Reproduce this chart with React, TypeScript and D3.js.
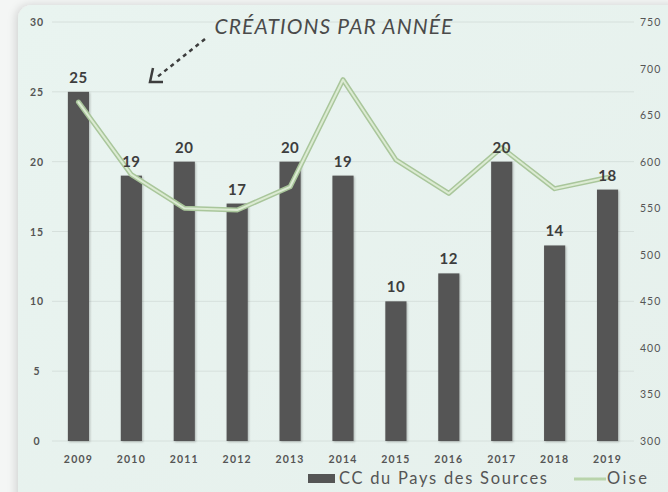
import { useRef, useEffect } from "react";
import * as d3 from "d3";

const years = ["2009", "2010", "2011", "2012", "2013", "2014", "2015", "2016", "2017", "2018", "2019"];
const ccValues = [25, 19, 20, 17, 20, 19, 10, 12, 20, 14, 18];
const oiseValues = [664, 586, 550, 548, 573, 688, 602, 566, 615, 571, 583];
const leftTicks = [0, 5, 10, 15, 20, 25, 30];
const rightTicks = [300, 350, 400, 450, 500, 550, 600, 650, 700, 750];

const FONT = "Lato, 'Open Sans', sans-serif";

export default function App() {
  const ref = useRef<SVGSVGElement>(null);

  useEffect(() => {
    if (!ref.current) return;
    const svg = d3.select(ref.current); svg.selectAll("*").remove();
    const W = 668, H = 492;
    const plot = { left: 52, right: 634, top: 22, bottom: 441 };

    const defs = svg.append("defs");
    const grad = defs.append("linearGradient").attr("id", "bg").attr("x1", 0).attr("x2", 1).attr("y1", 0).attr("y2", 1);
    grad.append("stop").attr("offset", "0%").attr("stop-color", "#e9f4f0");
    grad.append("stop").attr("offset", "100%").attr("stop-color", "#e6f0ec");
    const sh = defs.append("filter").attr("id", "sh").attr("x", "-10%").attr("y", "-10%").attr("width", "130%").attr("height", "130%");
    sh.append("feDropShadow").attr("dx", 1).attr("dy", 1).attr("stdDeviation", 1.2).attr("flood-color", "#000").attr("flood-opacity", 0.25);
    const cardSh = defs.append("filter").attr("id", "cardsh").attr("x", "-5%").attr("y", "-5%").attr("width", "110%").attr("height", "110%");
    cardSh.append("feDropShadow").attr("dx", -2).attr("dy", 0).attr("stdDeviation", 4).attr("flood-color", "#000").attr("flood-opacity", 0.15);

    svg.append("rect").attr("width", W).attr("height", H).attr("fill", "#f4f6f5");
    svg.append("rect").attr("x", 18).attr("y", 5).attr("width", W).attr("height", H + 20).attr("rx", 14)
      .attr("fill", "url(#bg)").attr("filter", "url(#cardsh)");

    const x = d3.scaleBand().domain(years).range([plot.left, plot.right]).paddingInner(0.6).paddingOuter(0.3);
    const yL = d3.scaleLinear().domain([0, 30]).range([plot.bottom, plot.top]);
    const yR = d3.scaleLinear().domain([300, 750]).range([plot.bottom, plot.top]);

    // gridlines
    svg.append("g").selectAll("line").data(leftTicks).join("line")
      .attr("x1", plot.left).attr("x2", plot.right).attr("y1", d => yL(d)).attr("y2", d => yL(d))
      .attr("stroke", "#d6e0dc").attr("stroke-width", 1);

    // left axis labels
    svg.append("g").selectAll("text").data(leftTicks).join("text")
      .attr("x", 37).attr("y", d => yL(d) + 4).attr("text-anchor", "middle")
      .attr("fill", "#555").attr("font-size", "10.5px").attr("font-weight", 700).attr("font-family", FONT)
      .attr("letter-spacing", "1px").text(d => String(d));

    // right axis labels
    svg.append("g").selectAll("text").data(rightTicks).join("text")
      .attr("x", 640).attr("y", d => yR(d) + 4).attr("text-anchor", "start")
      .attr("fill", "#555").attr("font-size", "10.5px").attr("font-family", FONT)
      .attr("letter-spacing", "1px").text(d => String(d));

    // bars
    svg.append("g").selectAll("rect").data(ccValues).join("rect")
      .attr("x", (_d, i) => x(years[i])!).attr("width", x.bandwidth())
      .attr("y", d => yL(d)).attr("height", d => plot.bottom - yL(d))
      .attr("fill", "#555555").attr("filter", "url(#sh)");

    // x labels
    svg.append("g").selectAll("text").data(years).join("text")
      .attr("x", d => x(d)! + x.bandwidth() / 2).attr("y", 463).attr("text-anchor", "middle")
      .attr("fill", "#555").attr("font-size", "10.5px").attr("font-weight", 700).attr("font-family", FONT)
      .attr("letter-spacing", "1.2px").text(d => d);

    // Oise line
    const line = d3.line<number>().x((_d, i) => x(years[i])! + x.bandwidth() / 2).y(d => yR(d));
    svg.append("path").datum(oiseValues).attr("d", line).attr("fill", "none")
      .attr("stroke", "#a9c69b").attr("stroke-width", 5).attr("stroke-linejoin", "round").attr("stroke-linecap", "round");
    svg.append("path").datum(oiseValues).attr("d", line).attr("fill", "none")
      .attr("stroke", "#dcebd3").attr("stroke-width", 2).attr("stroke-linejoin", "round").attr("stroke-linecap", "round");

    // value labels
    svg.append("g").selectAll("text").data(ccValues).join("text")
      .attr("x", (_d, i) => x(years[i])! + x.bandwidth() / 2).attr("y", d => yL(d) - 9).attr("text-anchor", "middle")
      .attr("fill", "#3d3d3d").attr("font-size", "15px").attr("font-weight", 700).attr("font-family", FONT)
      .attr("letter-spacing", "0.5px").text(d => String(d));

    // title + arrow
    svg.append("text").attr("x", 334).attr("y", 34).attr("text-anchor", "middle")
      .attr("fill", "#4a4a4a").attr("font-size", "21px").attr("font-style", "italic").attr("font-family", FONT)
      .attr("letter-spacing", "1.1px").text("CRÉATIONS PAR ANNÉE");
    svg.append("path").attr("d", "M205,39 L156,78").attr("stroke", "#3d3d3d").attr("stroke-width", 2.5)
      .attr("stroke-dasharray", "4,4").attr("fill", "none");
    svg.append("path").attr("d", "M153,68 L150,82 L163,82").attr("stroke", "#3d3d3d").attr("stroke-width", 2.5)
      .attr("fill", "none").attr("stroke-linejoin", "miter");

    // legend
    svg.append("rect").attr("x", 308).attr("y", 474).attr("width", 27).attr("height", 9).attr("fill", "#555");
    svg.append("text").attr("x", 339).attr("y", 484).attr("fill", "#555").attr("font-size", "16.5px")
      .attr("font-family", FONT).attr("textLength", 208).attr("lengthAdjust", "spacing").text("CC du Pays des Sources");
    svg.append("line").attr("x1", 574).attr("x2", 606).attr("y1", 479).attr("y2", 479)
      .attr("stroke", "#b9d4ab").attr("stroke-width", 3);
    svg.append("text").attr("x", 607).attr("y", 484).attr("fill", "#555").attr("font-size", "16.5px")
      .attr("font-family", FONT).attr("textLength", 40).attr("lengthAdjust", "spacing").text("Oise");
  }, []);

  return (
    <div style={{ position: "fixed", left: 0, top: 0, width: 668, height: 492, overflow: "hidden" }}>
      <svg ref={ref} width={668} height={492} style={{ display: "block" }} />
    </div>
  );
}
